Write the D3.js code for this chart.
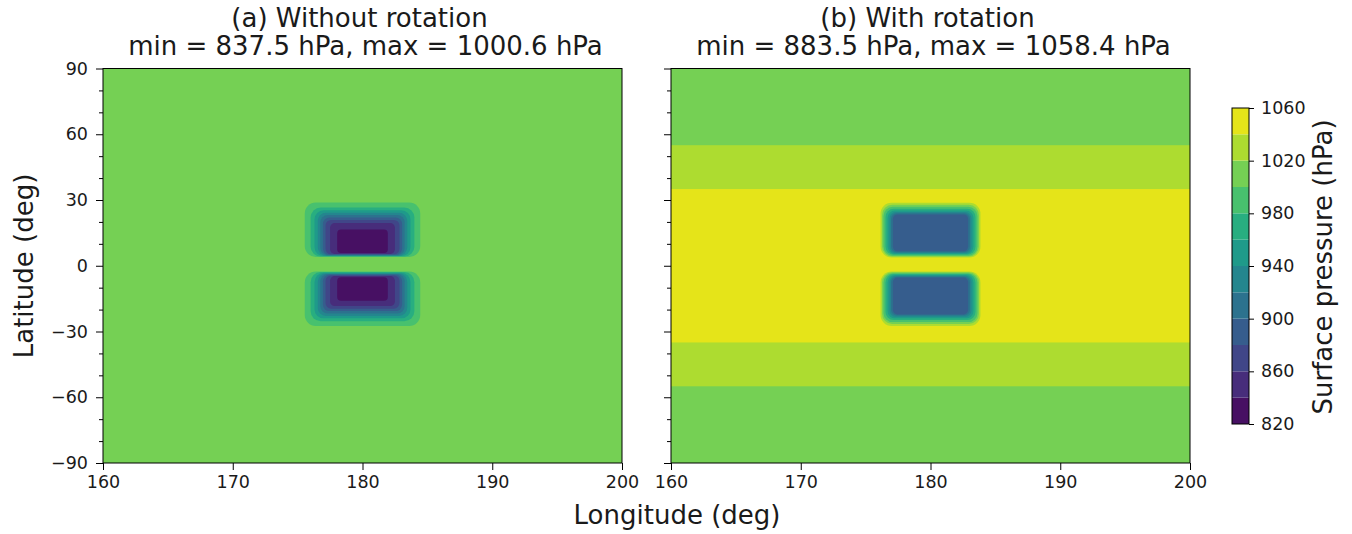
<!DOCTYPE html>
<html lang="en">
<head>
<meta charset="utf-8">
<script src="https://d3js.org/d3.v7.min.js"></script>
<style>
  body { margin: 0; background: #fff; }
  text { font-family: "DejaVu Sans", sans-serif; fill: #1a1a1a; }
</style>
</head>
<body>
<script>
// contour levels (hPa) and tick values
const levels = [820, 840, 860, 880, 900, 920, 940, 960, 980, 1000, 1020, 1040, 1060];
const cbTicks = [820, 860, 900, 940, 980, 1020, 1060];
const lonTicks = [160, 170, 180, 190, 200];
const latTicks = [-90, -60, -30, 0, 30, 60, 90];
const latMinor = [-80, -70, -50, -40, -20, -10, 10, 20, 40, 50, 70, 80];
const titles = ["(a) Without rotation", "(b) With rotation"];
const subtitles = ["min = 837.5 hPa, max = 1000.6 hPa", "min = 883.5 hPa, max = 1058.4 hPa"];

// (a) background band starts at 1000 hPa; boxes hold pressure below each level
const aBackground = 1000;
const aBoxLevel = [1000, 980, 960, 940, 920, 900, 880, 860, 840];
const aWest = [175.55, 176.0, 176.3, 176.55, 176.75, 176.95, 177.15, 177.5, 178.05];
const aEast = [184.45, 184.0, 183.7, 183.45, 183.25, 183.05, 182.85, 182.5, 181.95];
const aNorthTop = [28.9, 26.6, 25.3, 24.2, 23.1, 22.0, 20.9, 19.5, 16.5];
const aNorthBot = [4.0, 4.2, 4.4, 4.6, 4.8, 5.0, 5.2, 5.4, 5.8];
const aSouthTop = [-2.6, -2.9, -3.2, -3.5, -3.8, -4.1, -4.4, -4.7, -5.2];
const aSouthBot = [-27.5, -25.3, -24.0, -22.9, -21.8, -20.7, -19.6, -18.4, -16.0];

// (b) zonal high-pressure bands (pressure above level within +/- lat)
const bBackground = 1000;
const bBandLevel = [1020, 1040];
const bBandLat = [55, 35];
const bBoxLevel = [1040, 1020, 1000, 980, 960, 940, 920, 900];
const bWest = [176.15, 176.27, 176.38, 176.53, 176.69, 176.84, 176.96, 177.1];
const bEast = [183.85, 183.73, 183.62, 183.47, 183.31, 183.16, 183.04, 182.9];
const bNorthTop = [28.7, 27.8, 26.9, 26.0, 25.2, 24.5, 23.9, 23.4];
const bNorthBot = [3.8, 4.2, 4.6, 5.0, 5.4, 5.8, 6.2, 6.6];
const bSouthTop = [-2.6, -3.0, -3.4, -3.8, -4.2, -4.6, -5.0, -5.4];
const bSouthBot = [-27.5, -26.6, -25.7, -24.8, -24.0, -23.3, -22.7, -22.2];

const vmin = levels[0], vmax = levels[levels.length - 1];
// colour of the band [lo, lo+20]
const bandColor = lo => d3.interpolateViridis((lo + 10 - vmin) / (vmax - vmin));

const svg = d3.select("body").append("svg")
  .attr("width", 1352).attr("height", 534);

const yTop = 68.5, yBot = 463;
const y = d3.scaleLinear().domain([-90, 90]).range([yBot, yTop]);
const panelX = [[103, 622], [671, 1190]];

function drawBoxes(g, x, lv, west, east, top, bot) {
  lv.forEach((L, k) => {
    const r = Math.max(3, 11 - k * 0.9);
    g.append("rect")
      .attr("x", x(west[k])).attr("width", x(east[k]) - x(west[k]))
      .attr("y", y(top[k])).attr("height", y(bot[k]) - y(top[k]))
      .attr("rx", r).attr("ry", r)
      .attr("fill", bandColor(L - 20));
  });
}

function styleAxis(a) {
  a.select(".domain").remove();
  a.selectAll("line").attr("stroke", "#000");
  a.selectAll("text").attr("font-size", 17.5).attr("fill", "#1a1a1a")
    .style("font-family", "DejaVu Sans");
}

panelX.forEach((px, i) => {
  const x = d3.scaleLinear().domain([160, 200]).range(px);
  const g = svg.append("g");
  g.append("clipPath").attr("id", "clip" + i)
    .append("rect").attr("x", px[0]).attr("y", yTop)
    .attr("width", px[1] - px[0]).attr("height", yBot - yTop);
  const field = g.append("g").attr("clip-path", "url(#clip" + i + ")");

  if (i === 0) {
    field.append("rect").attr("x", px[0]).attr("y", yTop)
      .attr("width", px[1] - px[0]).attr("height", yBot - yTop)
      .attr("fill", bandColor(aBackground));
    drawBoxes(field, x, aBoxLevel, aWest, aEast, aNorthTop, aNorthBot);
    drawBoxes(field, x, aBoxLevel, aWest, aEast, aSouthTop, aSouthBot);
  } else {
    field.append("rect").attr("x", px[0]).attr("y", yTop)
      .attr("width", px[1] - px[0]).attr("height", yBot - yTop)
      .attr("fill", bandColor(bBackground));
    bBandLevel.forEach((L, k) => {
      field.append("rect").attr("x", px[0]).attr("y", y(bBandLat[k]))
        .attr("width", px[1] - px[0]).attr("height", y(-bBandLat[k]) - y(bBandLat[k]))
        .attr("fill", bandColor(L));
    });
    drawBoxes(field, x, bBoxLevel, bWest, bEast, bNorthTop, bNorthBot);
    drawBoxes(field, x, bBoxLevel, bWest, bEast, bSouthTop, bSouthBot);
  }

  // frame
  g.append("rect").attr("x", px[0]).attr("y", yTop)
    .attr("width", px[1] - px[0]).attr("height", yBot - yTop)
    .attr("fill", "none").attr("stroke", "#000").attr("stroke-width", 1);

  // axes
  styleAxis(g.append("g").attr("transform", `translate(0,${yBot})`)
    .call(d3.axisBottom(x).tickValues(lonTicks).tickSize(7).tickPadding(6).tickFormat(d3.format("d"))));
  styleAxis(g.append("g").attr("transform", `translate(${px[0]},0)`)
    .call(d3.axisLeft(y).tickValues(latTicks).tickSize(7).tickPadding(8)
      .tickFormat(i === 0 ? d3.format("d") : () => "")));
  styleAxis(g.append("g").attr("transform", `translate(${px[0]},0)`)
    .call(d3.axisLeft(y).tickValues(latMinor).tickSize(4).tickFormat(() => "")));

  // titles
  const cx = (px[0] + px[1]) / 2;
  g.append("text").attr("x", cx - 3).attr("y", 27).attr("text-anchor", "middle")
    .attr("font-size", 26).text(titles[i]);
  g.append("text").attr("x", cx + 3).attr("y", 55).attr("text-anchor", "middle")
    .attr("font-size", 26).text(subtitles[i]);
});

// shared axis labels
svg.append("text").attr("x", 677).attr("y", 524).attr("text-anchor", "middle")
  .attr("font-size", 26).text("Longitude (deg)");
svg.append("text").attr("transform", "translate(33,266) rotate(-90)")
  .attr("text-anchor", "middle").attr("font-size", 26).text("Latitude (deg)");

// colour bar
const cbX = 1232, cbW = 17;
const cy = d3.scaleLinear().domain([vmin, vmax]).range([424, 108]);
const cb = svg.append("g");
cb.selectAll("rect.band").data(levels.slice(0, -1)).join("rect")
  .attr("class", "band")
  .attr("x", cbX).attr("width", cbW)
  .attr("y", d => cy(d + 20)).attr("height", d => cy(d) - cy(d + 20))
  .attr("fill", d => bandColor(d));
cb.append("rect").attr("x", cbX).attr("y", cy(vmax)).attr("width", cbW)
  .attr("height", cy(vmin) - cy(vmax))
  .attr("fill", "none").attr("stroke", "#000").attr("stroke-width", 1);
styleAxis(cb.append("g").attr("transform", `translate(${cbX + cbW},0)`)
  .call(d3.axisRight(cy).tickValues(cbTicks).tickSize(5).tickPadding(7).tickFormat(d3.format("d"))));
svg.append("text").attr("transform", "translate(1332,267) rotate(-90)")
  .attr("text-anchor", "middle").attr("font-size", 26).text("Surface pressure (hPa)");
</script>
</body>
</html>
